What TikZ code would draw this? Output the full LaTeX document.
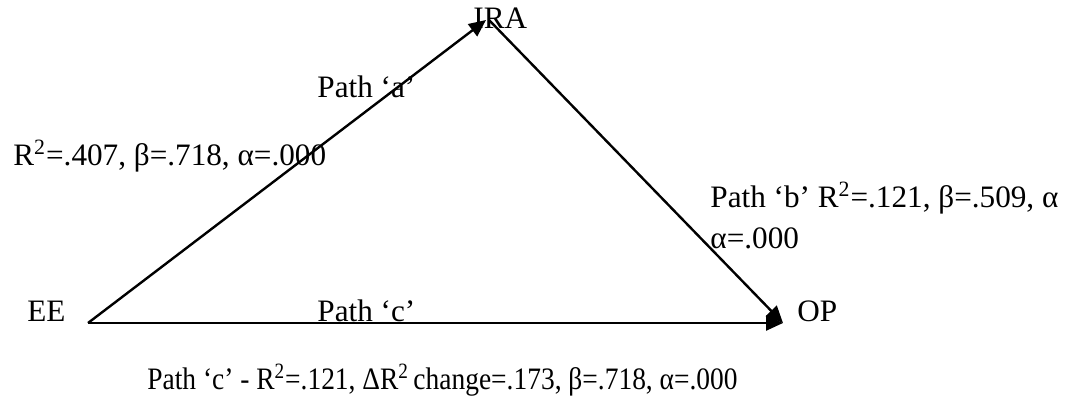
\documentclass[tikz,border=0pt]{standalone}
\usepackage{fontspec}
\setmainfont{Liberation Serif}
\usetikzlibrary{arrows.meta, positioning}

\begin{document}
\begin{tikzpicture}[
        x=0.5pt, y=-0.5pt,
        lbl/.style={inner sep=0pt, anchor=base west, font=\fontsize{15.6}{18}\selectfont},
        arrow/.style={-{Triangle[length=8.5pt, width=7.5pt]}, line width=1.2pt, draw=black}
    ]
        \useasboundingbox (0,0) rectangle (1076,398);
        \coordinate (ee) at (88,323);
        \coordinate (ira) at (486,20);
        \coordinate (irab) at (489,20);
        \coordinate (op) at (783,323);
        \node[lbl] (eetxt) at (27,321) {EE};
        \node[lbl] (iratxt) at (473,28) {IRA};
        \node[lbl] (optxt) at (797,321) {OP};
        \node[lbl] (patha) at (317,97) {Path ‘a’};
        \node[lbl] (stata) at (13,165) {R\textsuperscript{2}=.407, β=.718, α=.000};
        \node[lbl] (pathb) at (710,207) {Path ‘b’ R\textsuperscript{2}=.121, β=.509, α};
        \node[lbl] (statb) at (710,248) {α=.000};
        \node[lbl] (pathc) at (317,321) {Path ‘c’};
        \node[lbl, xscale=0.88] (statc) at (147,389) {Path ‘c’ - R\textsuperscript{2}=.121, ΔR\textsuperscript{2}\,change=.173, β=.718, α=.000};
        \draw[arrow] (ee) -- (ira);
        \draw[arrow] (irab) -- (op);
        \draw[arrow] (ee) -- (op);
    \end{tikzpicture}
\end{document}
